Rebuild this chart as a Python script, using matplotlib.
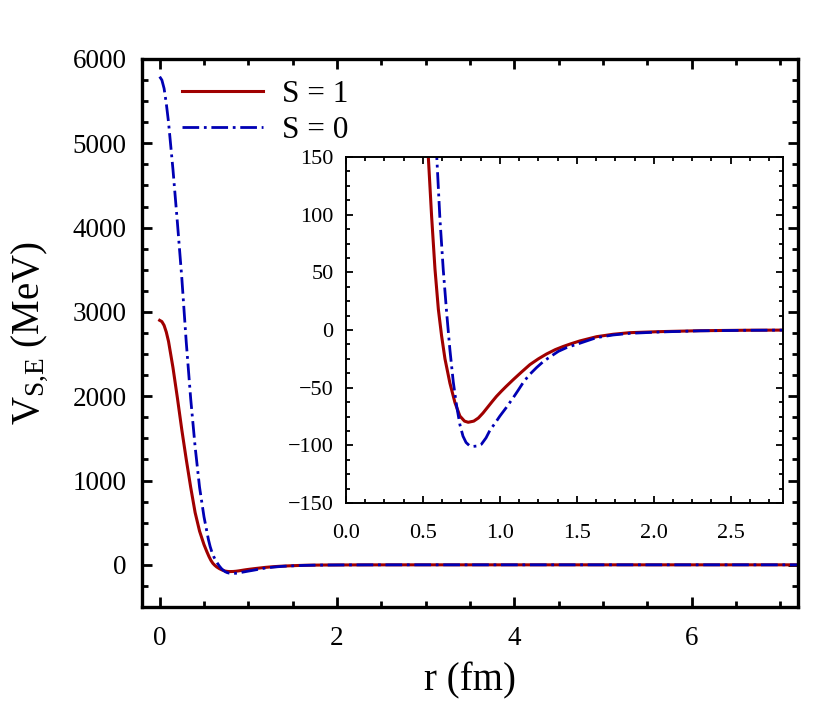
import matplotlib
matplotlib.use("Agg")
import matplotlib.pyplot as plt
from matplotlib.ticker import MultipleLocator, FormatStrFormatter

plt.rcParams['font.family'] = ['Liberation Serif', 'DejaVu Serif']
plt.rcParams['mathtext.fontset'] = 'custom'
plt.rcParams['mathtext.rm'] = 'Liberation Serif'
plt.rcParams['mathtext.it'] = 'Liberation Serif:italic'

# ---- data ----
r_s1 = [0.00, 0.025, 0.05, 0.075, 0.10, 0.15, 0.20, 0.25, 0.30, 0.35, 0.40,
        0.45, 0.50, 0.534, 0.556, 0.578, 0.600, 0.621, 0.643, 0.675, 0.708,
        0.740, 0.770, 0.794, 0.830, 0.860, 0.890, 0.920, 0.950, 0.978, 1.010,
        1.040, 1.087, 1.140, 1.195, 1.250, 1.303, 1.360, 1.411, 1.460, 1.519,
        1.628, 1.736, 1.844, 2.04, 2.30, 2.60, 3.00, 4.00, 5.00, 6.00, 7.20]
v_s1 = [2900, 2885, 2840, 2760, 2650, 2340, 1980, 1600, 1250, 920, 620,
        400, 240, 152, 99, 53, 18, -5, -25, -46, -63,
        -74.6, -79, -80, -79, -76.3, -72, -67, -62, -57.5, -53,
        -49, -43, -36.5, -30, -25, -20.8, -17, -14.3, -12, -9.5,
        -5.8, -3.7, -2.3, -1.4, -0.6, -0.2, 0, 0, 0, 0, 0]

r_s0 = [0.00, 0.025, 0.05, 0.075, 0.10, 0.15, 0.20, 0.25, 0.30, 0.35, 0.40,
        0.45, 0.50, 0.55, 0.57, 0.589, 0.610, 0.632, 0.654, 0.675, 0.697,
        0.719, 0.740, 0.760, 0.780, 0.800, 0.820, 0.850, 0.880, 0.910, 0.935,
        0.970, 1.000, 1.040, 1.087, 1.120, 1.151, 1.190, 1.238, 1.285, 1.335,
        1.380, 1.433, 1.519, 1.628, 1.736, 1.844, 2.04, 2.30, 2.60, 3.00,
        4.00, 5.00, 6.00, 7.20]
v_s0 = [5790, 5750, 5650, 5470, 5250, 4690, 4060, 3400, 2640, 1970, 1400,
        920, 570, 300, 215, 152, 97, 52, 15, -17, -45,
        -66, -82, -92, -97.5, -100, -101, -100.6, -99, -93.5, -87,
        -80.5, -74.6, -67.5, -58.6, -52, -45.6, -39, -32.6, -27, -22.5,
        -18.5, -15.3, -11.5, -6.6, -4.3, -2.9, -1.7, -0.7, -0.25, 0,
        0, 0, 0, 0]

labels = ['S = 1', 'S = 0']
red = '#a00000'
blue = '#0000b4'
dashdot = (0, (6.0, 1.7, 1.0, 1.7))

fig = plt.figure(figsize=(8.30, 7.13), dpi=100)
ax = fig.add_axes([0.171, 0.1487, 0.7904, 0.7686])

ax.plot(r_s1, v_s1, color=red, lw=2.2, label=labels[0])
ax.plot(r_s0, v_s0, color=blue, lw=2.0, linestyle=dashdot, label=labels[1])

ax.set_xlim(-0.2, 7.2)
ax.set_ylim(-500, 6000)
ax.xaxis.set_major_locator(MultipleLocator(2))
ax.xaxis.set_minor_locator(MultipleLocator(0.5))
ax.yaxis.set_major_locator(MultipleLocator(1000))
ax.yaxis.set_minor_locator(MultipleLocator(250))
ax.tick_params(which='both', direction='in', top=True, right=True, width=2.0)
ax.tick_params(which='major', length=7, labelsize=19.5, pad=11)
ax.tick_params(axis='x', which='major', pad=14)
ax.tick_params(which='minor', length=4)
for s in ax.spines.values():
    s.set_linewidth(2.4)

ax.set_xlabel('r (fm)', fontsize=28, labelpad=8)
ax.set_ylabel(r'$\mathrm{V_{S{,}E}}$ (MeV)', fontsize=28, labelpad=16)

leg = ax.legend(loc='upper left', bbox_to_anchor=(0.061, 0.962), frameon=False,
                fontsize=22.5, handlelength=2.6, handletextpad=0.6,
                labelspacing=0.22, borderpad=0, borderaxespad=0)

# ---- inset ----
axi = fig.add_axes([0.4169, 0.2945, 0.5265, 0.4853])
axi.plot(r_s1, v_s1, color=red, lw=2.2)
axi.plot(r_s0, v_s0, color=blue, lw=2.0, linestyle=dashdot)
axi.set_xlim(0.0, 2.84)
axi.set_ylim(-150, 150)
axi.xaxis.set_major_locator(MultipleLocator(0.5))
axi.xaxis.set_minor_locator(MultipleLocator(0.125))
axi.yaxis.set_major_locator(MultipleLocator(50))
axi.yaxis.set_minor_locator(MultipleLocator(12.5))
axi.xaxis.set_major_formatter(FormatStrFormatter('%.1f'))
axi.tick_params(which='both', direction='in', top=True, right=True, width=1.3)
axi.tick_params(which='major', length=5, labelsize=16, pad=9)
axi.tick_params(axis='x', which='major', pad=15)
axi.tick_params(which='minor', length=3)
for s in axi.spines.values():
    s.set_linewidth(1.4)

fig.savefig('out.png', dpi=100)
